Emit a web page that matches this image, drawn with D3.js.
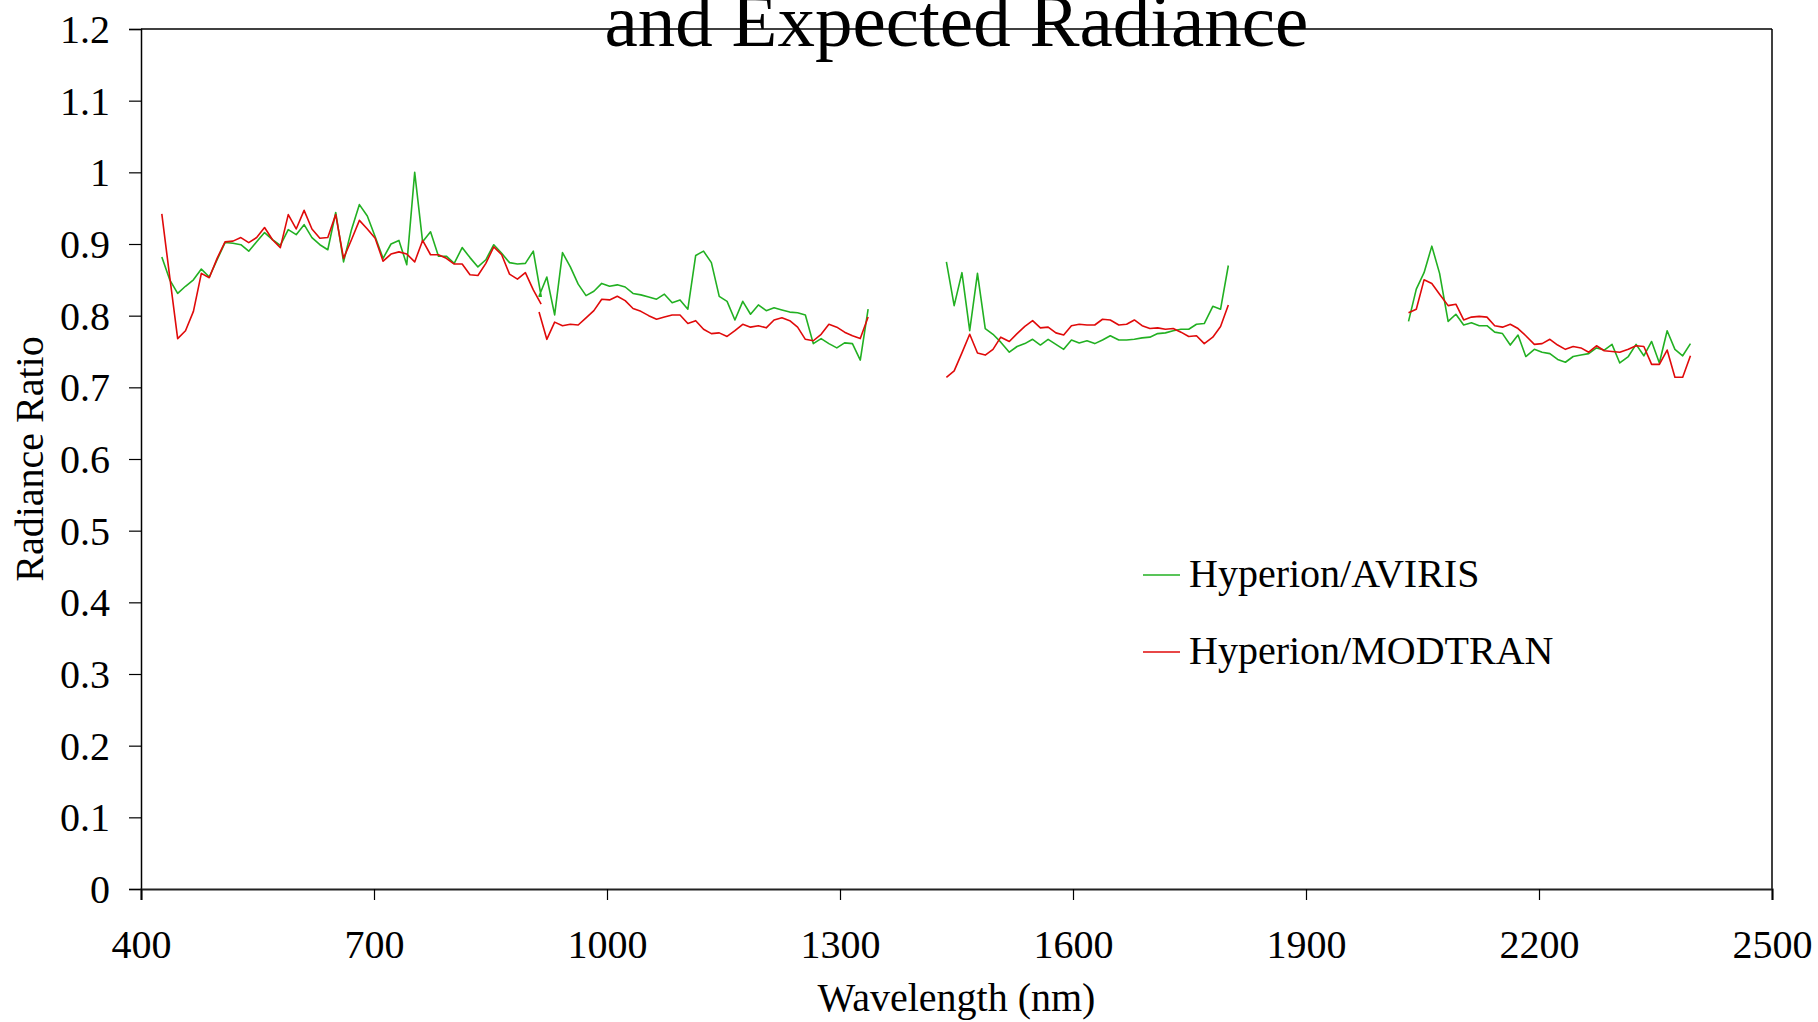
<!DOCTYPE html>
<html>
<head>
<meta charset="utf-8">
<script src="https://cdn.jsdelivr.net/npm/d3@7"></script>
<style>
  html, body { margin: 0; padding: 0; background: #fff; }
  svg { display: block; }
  text { font-family: "Liberation Serif", "Times New Roman", serif; fill: #000; }
</style>
</head>
<body>
<svg id="chart" width="1818" height="1022"></svg>
<script>
// ---------------- DATA ----------------
const xTicks = [400, 700, 1000, 1300, 1600, 1900, 2200, 2500];
const yTicks = [0, 0.1, 0.2, 0.3, 0.4, 0.5, 0.6, 0.7, 0.8, 0.9, 1, 1.1, 1.2];
const seriesNames = ["Hyperion/AVIRIS", "Hyperion/MODTRAN"];
const titleLine = "and Expected Radiance";
const xTitle = "Wavelength (nm)";
const yTitle = "Radiance Ratio";

// VNIR bands
const wlVNIR = [426.8, 437.0, 447.2, 457.3, 467.5, 477.7, 487.9, 498.0, 508.2, 518.4,
  528.6, 538.7, 548.9, 559.1, 569.3, 579.4, 589.6, 599.8, 610.0, 620.1,
  630.3, 640.5, 650.7, 660.8, 671.0, 681.2, 691.4, 701.5, 711.7, 721.9,
  732.1, 742.2, 752.4, 762.6, 772.8, 783.0, 793.1, 803.3, 813.5, 823.6,
  833.8, 844.0, 854.2, 864.4, 874.5, 884.7, 894.9, 905.1, 915.2];
const avirisVNIR = [0.882, 0.850, 0.831, 0.841, 0.850, 0.865, 0.854, 0.878, 0.902, 0.901,
  0.899, 0.890, 0.903, 0.916, 0.906, 0.898, 0.920, 0.913, 0.927, 0.909,
  0.899, 0.892, 0.944, 0.875, 0.920, 0.955, 0.939, 0.910, 0.880, 0.900,
  0.905, 0.871, 1.000, 0.903, 0.917, 0.883, 0.883, 0.873, 0.895, 0.881,
  0.868, 0.878, 0.899, 0.887, 0.874, 0.872, 0.873, 0.890, 0.827];
const modtranVNIR = [0.942, 0.854, 0.768, 0.779, 0.806, 0.859, 0.853, 0.880, 0.903, 0.904,
  0.909, 0.902, 0.909, 0.923, 0.906, 0.895, 0.941, 0.921, 0.947, 0.921,
  0.908, 0.909, 0.941, 0.880, 0.906, 0.933, 0.921, 0.908, 0.876, 0.886,
  0.889, 0.886, 0.875, 0.905, 0.885, 0.885, 0.880, 0.872, 0.872, 0.857,
  0.856, 0.873, 0.896, 0.885, 0.858, 0.851, 0.860, 0.836, 0.816];

// SWIR part 1
const wlSWIR1 = [912.5, 922.5, 932.6, 942.7, 952.8, 962.9, 973.0, 983.1, 993.2, 1003.3,
  1013.3, 1023.4, 1033.5, 1043.6, 1053.7, 1063.8, 1073.9, 1083.9, 1094.0, 1104.1,
  1114.2, 1124.3, 1134.4, 1144.5, 1154.6, 1164.7, 1174.8, 1184.8, 1194.9, 1205.0,
  1215.1, 1225.2, 1235.3, 1245.4, 1255.4, 1265.6, 1275.7, 1285.7, 1295.9, 1305.9,
  1316.0, 1326.1, 1336.2];
const avirisSWIR1 = [0.827, 0.854, 0.801, 0.888, 0.868, 0.844, 0.828, 0.834, 0.845, 0.841,
  0.843, 0.840, 0.831, 0.829, 0.826, 0.823, 0.830, 0.818, 0.822, 0.809,
  0.884, 0.890, 0.874, 0.827, 0.820, 0.794, 0.820, 0.802, 0.815, 0.807,
  0.811, 0.808, 0.805, 0.804, 0.801, 0.761, 0.768, 0.761, 0.755, 0.762,
  0.761, 0.738, 0.809];
const modtranSWIR1 = [0.805, 0.767, 0.791, 0.786, 0.788, 0.787, 0.797, 0.807, 0.823, 0.822,
  0.827, 0.821, 0.810, 0.806, 0.800, 0.795, 0.798, 0.801, 0.801, 0.789,
  0.793, 0.781, 0.775, 0.776, 0.771, 0.779, 0.788, 0.784, 0.786, 0.783,
  0.794, 0.797, 0.793, 0.784, 0.767, 0.765, 0.774, 0.788, 0.784, 0.777,
  0.772, 0.768, 0.798];

// SWIR part 2
const wlSWIR2 = [1437, 1447, 1457, 1467, 1477, 1487, 1497, 1507, 1518, 1528,
  1538, 1548, 1558, 1568, 1578, 1588, 1598, 1608, 1618, 1628,
  1638, 1648, 1659, 1669, 1679, 1689, 1699, 1709, 1719, 1729,
  1739, 1749, 1759, 1769, 1780, 1790, 1800];
const avirisSWIR2 = [0.875, 0.814, 0.860, 0.779, 0.859, 0.782, 0.774, 0.763, 0.749, 0.757,
  0.761, 0.767, 0.759, 0.767, 0.760, 0.753, 0.766, 0.762, 0.765, 0.761,
  0.766, 0.772, 0.766, 0.766, 0.767, 0.769, 0.770, 0.775, 0.776, 0.779,
  0.781, 0.781, 0.788, 0.789, 0.813, 0.809, 0.870];
const modtranSWIR2 = [0.714, 0.723, 0.748, 0.774, 0.748, 0.745, 0.753, 0.770, 0.764, 0.775,
  0.785, 0.793, 0.783, 0.784, 0.776, 0.773, 0.786, 0.788, 0.787, 0.787,
  0.795, 0.794, 0.787, 0.788, 0.794, 0.786, 0.782, 0.783, 0.781, 0.782,
  0.777, 0.771, 0.772, 0.761, 0.770, 0.785, 0.815];

// SWIR part 3
const wlSWIR3 = [2032, 2042, 2052, 2062, 2072, 2083, 2093, 2103, 2113, 2123,
  2133, 2143, 2153, 2163, 2173, 2183, 2194, 2204, 2214, 2224,
  2234, 2244, 2254, 2264, 2274, 2284, 2294, 2304, 2315, 2325,
  2335, 2345, 2355, 2365, 2375, 2385, 2395];
const avirisSWIR3 = [0.792, 0.837, 0.860, 0.897, 0.859, 0.792, 0.802, 0.787, 0.790, 0.786,
  0.786, 0.777, 0.775, 0.759, 0.773, 0.743, 0.753, 0.749, 0.747, 0.739,
  0.735, 0.743, 0.745, 0.747, 0.755, 0.752, 0.760, 0.734, 0.743, 0.760,
  0.744, 0.764, 0.734, 0.779, 0.753, 0.744, 0.761];
const modtranSWIR3 = [0.804, 0.809, 0.850, 0.845, 0.830, 0.814, 0.816, 0.794, 0.798, 0.799,
  0.798, 0.786, 0.784, 0.788, 0.782, 0.772, 0.760, 0.761, 0.767, 0.759,
  0.753, 0.757, 0.755, 0.749, 0.758, 0.751, 0.750, 0.749, 0.753, 0.758,
  0.757, 0.732, 0.732, 0.752, 0.714, 0.714, 0.744];

// ---------------- CHART ----------------
const svg = d3.select("#chart");
const mLeft = 141, mRight = 1772, mTop = 29, mBottom = 889;
const x = d3.scaleLinear().domain([400, 2500]).range([mLeft, mRight]);
const y = d3.scaleLinear().domain([0, 1.2]).range([mBottom, mTop]);
const colors = ["#22b022", "#e00a0a"];

const zip = (w, v) => w.map((d, i) => [d, v[i]]);
const greenSegments = [
  zip(wlVNIR.concat(wlSWIR1), avirisVNIR.concat(avirisSWIR1)),
  zip(wlSWIR2, avirisSWIR2),
  zip(wlSWIR3, avirisSWIR3)
];
const redSegments = [
  zip(wlVNIR, modtranVNIR),
  zip(wlSWIR1, modtranSWIR1),
  zip(wlSWIR2, modtranSWIR2),
  zip(wlSWIR3, modtranSWIR3)
];

// frame (top & right)
svg.append("line").attr("x1", mLeft).attr("x2", mRight).attr("y1", mTop).attr("y2", mTop)
  .attr("stroke", "#000").attr("stroke-width", 1.5);
svg.append("line").attr("x1", mRight).attr("x2", mRight).attr("y1", mTop).attr("y2", mBottom)
  .attr("stroke", "#000").attr("stroke-width", 1.5);

// y axis
const yAxis = svg.append("g").attr("transform", `translate(${mLeft},0)`)
  .call(d3.axisLeft(y).tickValues(yTicks).tickSize(12).tickPadding(19)
    .tickFormat(d => d3.format("~g")(+d.toFixed(1))));
yAxis.select(".domain").attr("stroke", "#000").attr("stroke-width", 1.5);
yAxis.selectAll(".tick line").attr("stroke", "#000").attr("stroke-width", 1.2);
yAxis.selectAll("text").attr("font-size", 40).attr("font-family", "Liberation Serif")
  .attr("fill", "#000").attr("dy", "0.34em");

// x axis
const xAxis = svg.append("g").attr("transform", `translate(0,${mBottom})`)
  .call(d3.axisBottom(x).tickValues(xTicks).tickSize(11).tickPadding(0).tickFormat(d3.format("d")));
xAxis.select(".domain").attr("stroke", "#222").attr("stroke-width", 2.2);
xAxis.selectAll(".tick line").attr("stroke", "#000").attr("stroke-width", 1.2);
xAxis.selectAll("text").attr("font-size", 40).attr("font-family", "Liberation Serif")
  .attr("fill", "#000").attr("y", 69).attr("dy", 0);

// series lines
const line = d3.line().x(d => x(d[0])).y(d => y(d[1]));
const plot = svg.append("g");
greenSegments.forEach(seg => plot.append("path").attr("d", line(seg))
  .attr("fill", "none").attr("stroke", colors[0]).attr("stroke-width", 1.6).attr("stroke-linejoin", "round"));
redSegments.forEach(seg => plot.append("path").attr("d", line(seg))
  .attr("fill", "none").attr("stroke", colors[1]).attr("stroke-width", 1.6).attr("stroke-linejoin", "round"));

// title (visible line)
svg.append("text").attr("x", (mLeft + mRight) / 2).attr("y", 46)
  .attr("text-anchor", "middle").attr("font-size", 75).text(titleLine);

// axis titles
svg.append("text").attr("x", (mLeft + mRight) / 2).attr("y", 1011)
  .attr("text-anchor", "middle").attr("font-size", 40).text(xTitle);
svg.append("text").attr("transform", `translate(43,${(mTop + mBottom) / 2}) rotate(-90)`)
  .attr("text-anchor", "middle").attr("font-size", 40).text(yTitle);

// legend
const legend = svg.append("g");
const legendY = [575, 652];
seriesNames.forEach((name, i) => {
  legend.append("line").attr("x1", 1143).attr("x2", 1180)
    .attr("y1", legendY[i]).attr("y2", legendY[i])
    .attr("stroke", colors[i]).attr("stroke-width", 1.6);
  legend.append("text").attr("x", 1189).attr("y", legendY[i] + 12)
    .attr("font-size", 40).text(name);
});
</script>
</body>
</html>
